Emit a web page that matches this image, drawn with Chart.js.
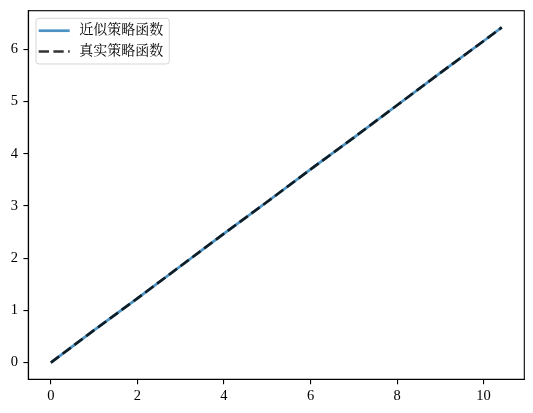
<!DOCTYPE html>
<html>
<head>
<meta charset="utf-8">
<script src="https://cdn.jsdelivr.net/npm/chart.js@4"></script>
<style>
html,body{margin:0;padding:0;background:#fff;}
#wrap{width:533px;height:413px;}
</style>
</head>
<body>
<div id="wrap"><canvas id="c" width="533" height="413"></canvas></div>
<script>
// ---- data ----
const xValues = [0, 1, 2, 3, 4, 5, 6, 7, 8, 9, 10, 10.42];
const approxValues = [0, 0.62, 1.23, 1.85, 2.47, 3.08, 3.70, 4.31, 4.93, 5.55, 6.16, 6.42];
const trueValues   = [0, 0.62, 1.23, 1.85, 2.47, 3.08, 3.70, 4.31, 4.93, 5.55, 6.16, 6.42];
const seriesLabels = ['近似策略函数', '真实策略函数'];
const xTicks = [0, 2, 4, 6, 8, 10];
const yTicks = [0, 1, 2, 3, 4, 5, 6];

const FONT = "'Liberation Serif', 'Noto Serif CJK SC', 'Noto Sans CJK SC', serif";
const BLUE = 'rgba(31,119,180,0.8)';
const DARK = 'rgba(0,0,0,0.8)';

const toPts = (ys) => xValues.map((x, i) => ({x: x, y: ys[i]}));

const framePlugin = {
  id: 'frame',
  afterDraw(chart) {
    const {ctx, chartArea: a} = chart;
    ctx.save();
    ctx.strokeStyle = '#000';
    ctx.lineWidth = 1.1;
    ctx.strokeRect(a.left, a.top, a.right - a.left, a.bottom - a.top);
    ctx.restore();
  }
};

const legendPlugin = {
  id: 'mplLegend',
  afterDraw(chart) {
    const ctx = chart.ctx;
    const a = chart.chartArea;
    const bx = a.left + 7.7, by = a.top + 7.6, bw = 133.3, bh = 45.7, r = 3;
    ctx.save();
    ctx.beginPath();
    ctx.moveTo(bx + r, by);
    ctx.lineTo(bx + bw - r, by);
    ctx.arcTo(bx + bw, by, bx + bw, by + r, r);
    ctx.lineTo(bx + bw, by + bh - r);
    ctx.arcTo(bx + bw, by + bh, bx + bw - r, by + bh, r);
    ctx.lineTo(bx + r, by + bh);
    ctx.arcTo(bx, by + bh, bx, by + bh - r, r);
    ctx.lineTo(bx, by + r);
    ctx.arcTo(bx, by, bx + r, by, r);
    ctx.closePath();
    ctx.fillStyle = 'rgba(255,255,255,0.8)';
    ctx.fill();
    ctx.strokeStyle = 'rgba(204,204,204,0.8)';
    ctx.lineWidth = 1;
    ctx.stroke();

    const ds = chart.data.datasets;
    const rows = [by + 12.4, by + 33.2];
    ds.forEach((d, i) => {
      const y = rows[i];
      ctx.beginPath();
      ctx.setLineDash(d.borderDash || []);
      ctx.strokeStyle = d.borderColor;
      ctx.lineWidth = d.borderWidth;
      ctx.moveTo(bx + 2.7, y);
      ctx.lineTo(bx + 33.7, y);
      ctx.stroke();
      ctx.setLineDash([]);
      ctx.fillStyle = '#000';
      ctx.font = '14px ' + FONT;
      ctx.textBaseline = 'middle';
      ctx.textAlign = 'left';
      ctx.fillText(d.label, bx + 43.3, y);
    });
    ctx.restore();
  }
};

new Chart(document.getElementById('c'), {
  type: 'line',
  data: {
    datasets: [
      {
        label: seriesLabels[0],
        data: toPts(approxValues),
        borderColor: BLUE,
        borderWidth: 2.7,
        pointRadius: 0,
        fill: false,
        tension: 0,
        order: 2
      },
      {
        label: seriesLabels[1],
        data: toPts(trueValues),
        borderColor: DARK,
        borderWidth: 2.7,
        borderDash: [10.3, 4.4],
        pointRadius: 0,
        fill: false,
        tension: 0,
        order: 1
      }
    ]
  },
  options: {
    responsive: false,
    devicePixelRatio: 1,
    animation: false,
    layout: {padding: {top: 10.7, right: 8.7, left: 0, bottom: 0}},
    plugins: {
      legend: {display: false},
      tooltip: {enabled: false}
    },
    scales: {
      x: {
        type: 'linear',
        min: -0.521,
        max: 10.94,
        afterBuildTicks: (s) => { s.ticks = xTicks.map(v => ({value: v})); },
        afterFit: (s) => { s.height = 33.7; s.paddingLeft = 0; s.paddingRight = 0; },
        grid: {drawOnChartArea: false, drawTicks: true, tickLength: 4.9, color: '#000', lineWidth: 1.1},
        border: {display: true, color: '#000', width: 1.1},
        ticks: {color: '#000', padding: 3.5, maxRotation: 0, autoSkip: false,
                font: {family: FONT, size: 14.5}}
      },
      y: {
        type: 'linear',
        min: -0.321,
        max: 6.741,
        afterBuildTicks: (s) => { s.ticks = yTicks.map(v => ({value: v})); },
        afterFit: (s) => { s.width = 28.3; s.paddingTop = 0; s.paddingBottom = 0; },
        grid: {drawOnChartArea: false, drawTicks: true, tickLength: 4.9, color: '#000', lineWidth: 1.1},
        border: {display: true, color: '#000', width: 1.1},
        ticks: {color: '#000', padding: 5.5, autoSkip: false,
                font: {family: FONT, size: 14.5}}
      }
    }
  },
  plugins: [framePlugin, legendPlugin]
});
</script>
</body>
</html>
